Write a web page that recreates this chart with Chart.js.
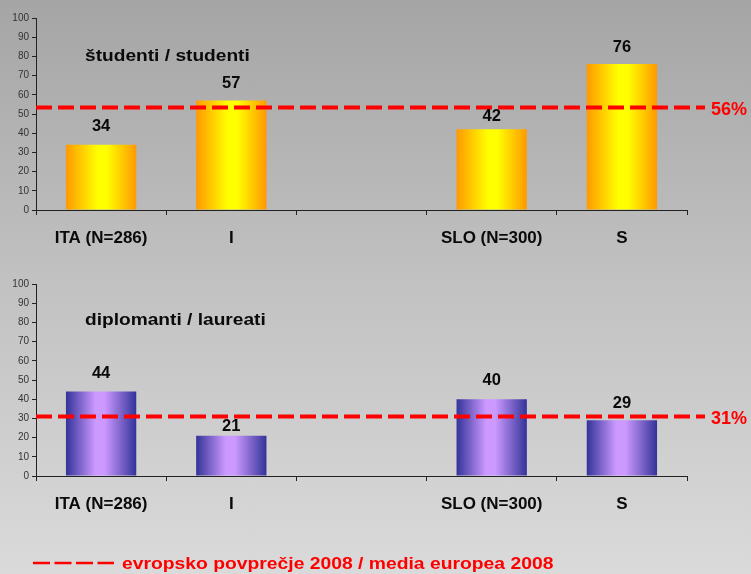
<!DOCTYPE html>
<html>
<head>
<meta charset="utf-8">
<script src="https://cdn.jsdelivr.net/npm/chart.js@4/dist/chart.umd.min.js"></script>
<style>
  html, body { margin: 0; padding: 0; }
  body {
    width: 751px; height: 574px; overflow: hidden; position: relative;
    background: linear-gradient(to bottom, #a5a5a5 0%, #c2c2c2 50%, #dadada 100%);
  }
  canvas { position: absolute; left: 0; }
  #c1 { top: 0; }
  #c2 { top: 266px; }
</style>
</head>
<body>
<canvas id="c1" width="751" height="260"></canvas>
<canvas id="c2" width="751" height="308"></canvas>
<script>
// ---- data ----
const categories = ['ITA (N=286)', 'I', '', 'SLO (N=300)', 'S'];
const studentValues = [34, 57, null, 42, 76];
const graduateValues = [44, 21, null, 40, 29];
const averageLineValues = [53.4, 31];
const averageLineLabels = ['56%', '31%'];
const panelTitles = ['študenti / studenti', 'diplomanti / laureati'];
const legendLabel = 'evropsko povprečje 2008 / media europea 2008';
const yMin = 0, yMax = 100, yStep = 10;

const FONT = '"Liberation Sans", Arial, sans-serif';
const BAR_PCT = 0.54;

function gradientFill(stops, fallback) {
  return function (c) {
    const chart = c.chart;
    const xs = chart.scales && chart.scales.x;
    if (!xs || c.type !== 'data' || !chart.chartArea) return fallback;
    const cx = xs.getPixelForValue(c.dataIndex);
    const w = (xs.width / categories.length) * BAR_PCT;
    const g = chart.ctx.createLinearGradient(cx - w / 2, 0, cx + w / 2, 0);
    stops.forEach(s => g.addColorStop(s[0], s[1]));
    return g;
  };
}

function stretchText(ctx, text, x, y, sx) {
  ctx.save();
  ctx.translate(x, y);
  ctx.scale(sx, 1);
  ctx.fillText(text, 0, 0);
  ctx.restore();
}

const overlayPlugin = {
  id: 'overlay',
  afterDatasetsDraw(chart, args, o) {
    const ctx = chart.ctx;
    const ys = chart.scales.y;
    const area = chart.chartArea;
    ctx.save();
    // title
    ctx.fillStyle = '#0a0a0a';
    ctx.font = 'bold 16.5px ' + FONT;
    ctx.textBaseline = 'alphabetic';
    ctx.textAlign = 'left';
    stretchText(ctx, o.title, 85, o.titleY, 1.16);
    // average line
    const ly = ys.getPixelForValue(o.avg);
    ctx.strokeStyle = '#ff0000';
    ctx.lineWidth = 4;
    ctx.setLineDash([16, 6]);
    ctx.beginPath();
    ctx.moveTo(area.left, ly);
    ctx.lineTo(705, ly);
    ctx.stroke();
    ctx.setLineDash([]);
    // value labels
    ctx.fillStyle = '#0a0a0a';
    ctx.font = 'bold 16.5px ' + FONT;
    ctx.textAlign = 'center';
    const meta = chart.getDatasetMeta(0);
    const data = chart.data.datasets[0].data;
    meta.data.forEach((el, i) => {
      if (data[i] == null) return;
      ctx.fillText(String(data[i]), el.x, el.y - o.labelGaps[i]);
    });
    // percentage label
    ctx.fillStyle = '#ff0000';
    ctx.font = 'bold 18px ' + FONT;
    ctx.textAlign = 'left';
    ctx.textBaseline = 'middle';
    ctx.fillText(o.avgLabel, 711, ly + 3);
    // legend
    if (o.legend) {
      ctx.strokeStyle = '#ff0000';
      ctx.lineWidth = 2.5;
      ctx.setLineDash([17, 4.5]);
      ctx.beginPath();
      ctx.moveTo(33, 297);
      ctx.lineTo(114, 297);
      ctx.stroke();
      ctx.setLineDash([]);
      ctx.font = 'bold 16.5px ' + FONT;
      ctx.textBaseline = 'alphabetic';
      stretchText(ctx, o.legend, 122, 302.5, 1.17);
    }
    ctx.restore();
  }
};

function makeChart(id, values, stops, idx, bottomPad, legend, titleY, labelGaps) {
  return new Chart(document.getElementById(id), {
    type: 'bar',
    data: {
      labels: categories,
      datasets: [{
        data: values,
        backgroundColor: gradientFill(stops, stops[1][1]),
        borderWidth: 0,
        barPercentage: BAR_PCT,
        categoryPercentage: 1
      }]
    },
    options: {
      responsive: false,
      animation: false,
      events: [],
      layout: { padding: { left: 0, right: 64, top: 18, bottom: bottomPad } },
      plugins: {
        legend: { display: false },
        tooltip: { enabled: false },
        title: { display: false },
        overlay: {
          title: panelTitles[idx],
          titleY: titleY,
          avg: averageLineValues[idx],
          avgLabel: averageLineLabels[idx],
          legend: legend,
          labelGaps: labelGaps
        }
      },
      scales: {
        x: {
          grid: { display: true, drawOnChartArea: false, drawTicks: true, tickLength: 5, color: '#222', offset: true },
          border: { display: true, color: '#222', width: 1 },
          ticks: { font: { family: FONT, size: 17, weight: 'bold' }, color: '#0a0a0a', padding: 13, maxRotation: 0, autoSkip: false },
          afterFit(s) { s.height = 50; }
        },
        y: {
          min: yMin, max: yMax,
          ticks: { stepSize: yStep, font: { family: FONT, size: 10 }, color: '#333', padding: 3 },
          grid: { display: true, drawOnChartArea: false, drawTicks: true, tickLength: 4, color: '#222' },
          border: { display: true, color: '#222', width: 1 },
          afterFit(s) { s.width = 36; }
        }
      }
    },
    plugins: [overlayPlugin]
  });
}

const orangeStops = [[0, '#ff9900'], [0.45, '#ffff00'], [0.58, '#ffff00'], [1, '#ff9900']];
const purpleStops = [[0, '#333399'], [0.42, '#cc99ff'], [0.55, '#cc99ff'], [1, '#333399']];

makeChart('c1', studentValues, orangeStops, 0, 0, null, 61, [13.5, 13, 0, 8.5, 12]);
makeChart('c2', graduateValues, purpleStops, 1, 48, legendLabel, 59, [14, 4.5, 0, 14, 12]);
</script>
</body>
</html>
